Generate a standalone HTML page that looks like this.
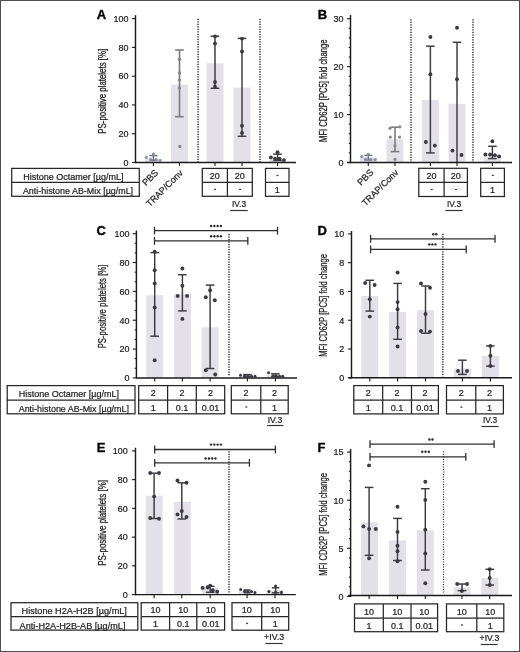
<!DOCTYPE html>
<html><head><meta charset="utf-8"><style>html,body{margin:0;padding:0;background:#fff;width:520px;height:652px;overflow:hidden;}svg{display:block;will-change:transform;font-family:"Liberation Sans", sans-serif;}</style></head><body>
<svg width="520" height="652" viewBox="0 0 520 652" font-family="Liberation Sans, sans-serif">
<rect x="0" y="0" width="520" height="652" fill="#ffffff"/>
<text x="96.8" y="18.8" font-size="13" text-anchor="start" font-weight="bold" fill="#000" stroke="#000" stroke-width="0.35" >A</text>
<line x1="135.5" y1="15.2" x2="135.5" y2="163.2" stroke="#1a1a1a" stroke-width="1.45" />
<line x1="131.9" y1="162.5" x2="135.5" y2="162.5" stroke="#1a1a1a" stroke-width="1.1" />
<text x="128.4" y="165.8" font-size="9.6" text-anchor="end" font-weight="normal" fill="#1a1a1a" stroke="#1a1a1a" stroke-width="0.22" textLength="5" lengthAdjust="spacingAndGlyphs" >0</text>
<line x1="131.9" y1="133.72" x2="135.5" y2="133.72" stroke="#1a1a1a" stroke-width="1.1" />
<text x="128.4" y="137.02" font-size="9.6" text-anchor="end" font-weight="normal" fill="#1a1a1a" stroke="#1a1a1a" stroke-width="0.22" textLength="10" lengthAdjust="spacingAndGlyphs" >20</text>
<line x1="131.9" y1="104.94" x2="135.5" y2="104.94" stroke="#1a1a1a" stroke-width="1.1" />
<text x="128.4" y="108.24" font-size="9.6" text-anchor="end" font-weight="normal" fill="#1a1a1a" stroke="#1a1a1a" stroke-width="0.22" textLength="10" lengthAdjust="spacingAndGlyphs" >40</text>
<line x1="131.9" y1="76.16" x2="135.5" y2="76.16" stroke="#1a1a1a" stroke-width="1.1" />
<text x="128.4" y="79.46" font-size="9.6" text-anchor="end" font-weight="normal" fill="#1a1a1a" stroke="#1a1a1a" stroke-width="0.22" textLength="10" lengthAdjust="spacingAndGlyphs" >60</text>
<line x1="131.9" y1="47.38" x2="135.5" y2="47.38" stroke="#1a1a1a" stroke-width="1.1" />
<text x="128.4" y="50.68" font-size="9.6" text-anchor="end" font-weight="normal" fill="#1a1a1a" stroke="#1a1a1a" stroke-width="0.22" textLength="10" lengthAdjust="spacingAndGlyphs" >80</text>
<line x1="131.9" y1="18.6" x2="135.5" y2="18.6" stroke="#1a1a1a" stroke-width="1.1" />
<text x="128.4" y="21.9" font-size="9.6" text-anchor="end" font-weight="normal" fill="#1a1a1a" stroke="#1a1a1a" stroke-width="0.22" textLength="15" lengthAdjust="spacingAndGlyphs" >100</text>
<text transform="translate(106.3,91.3) rotate(-90)" x="0" y="0" font-size="10.5" text-anchor="middle" fill="#1e1e1e" stroke="#1e1e1e" stroke-width="0.28" textLength="84.8" lengthAdjust="spacingAndGlyphs">PS-positive platelets [%]</text>
<rect x="144.9" y="159" width="17" height="3.5" fill="#e3e1e7"/>
<rect x="171" y="84.5" width="17" height="78" fill="#e3e1e7"/>
<rect x="206.5" y="63.2" width="17" height="99.3" fill="#e3e1e7"/>
<rect x="233.5" y="87.7" width="17" height="74.8" fill="#e3e1e7"/>
<rect x="269" y="159.6" width="17" height="2.9" fill="#e3e1e7"/>
<line x1="198.1" y1="18.8" x2="198.1" y2="162" stroke="#404040" stroke-width="1.6" stroke-dasharray="1.2 1.3"/>
<line x1="260" y1="18.8" x2="260" y2="162" stroke="#404040" stroke-width="1.6" stroke-dasharray="1.2 1.3"/>
<line x1="135.5" y1="162.5" x2="296" y2="162.5" stroke="#1a1a1a" stroke-width="1.45" />
<line x1="153.4" y1="162.5" x2="153.4" y2="166.1" stroke="#1a1a1a" stroke-width="1.1" />
<line x1="179.5" y1="162.5" x2="179.5" y2="166.1" stroke="#1a1a1a" stroke-width="1.1" />
<line x1="215" y1="162.5" x2="215" y2="166.1" stroke="#1a1a1a" stroke-width="1.1" />
<line x1="242" y1="162.5" x2="242" y2="166.1" stroke="#1a1a1a" stroke-width="1.1" />
<line x1="277.5" y1="162.5" x2="277.5" y2="166.1" stroke="#1a1a1a" stroke-width="1.1" />
<line x1="153.4" y1="155.6" x2="153.4" y2="160.3" stroke="#6d7080" stroke-width="1.45" />
<line x1="149.4" y1="155.6" x2="157.4" y2="155.6" stroke="#6d7080" stroke-width="1.45" />
<line x1="149.4" y1="160.3" x2="157.4" y2="160.3" stroke="#6d7080" stroke-width="1.45" />
<circle cx="146.3" cy="157.3" r="1.6" fill="#8d90a0"/>
<circle cx="153.4" cy="154.1" r="1.6" fill="#8d90a0"/>
<circle cx="160.2" cy="160.5" r="1.6" fill="#8d90a0"/>
<circle cx="150.6" cy="159.4" r="1.6" fill="#8d90a0"/>
<circle cx="156" cy="159.6" r="1.6" fill="#8d90a0"/>
<line x1="179.5" y1="50" x2="179.5" y2="116.7" stroke="#7b7b7e" stroke-width="1.6" />
<line x1="175.2" y1="50" x2="183.8" y2="50" stroke="#7b7b7e" stroke-width="1.6" />
<line x1="175.2" y1="116.7" x2="183.8" y2="116.7" stroke="#7b7b7e" stroke-width="1.6" />
<circle cx="179.5" cy="59.2" r="1.7" fill="#85858a"/>
<circle cx="179.5" cy="73" r="1.7" fill="#85858a"/>
<circle cx="179.5" cy="79.9" r="1.7" fill="#85858a"/>
<circle cx="179.5" cy="87.9" r="1.7" fill="#85858a"/>
<circle cx="179.9" cy="146.5" r="1.7" fill="#85858a"/>
<line x1="215" y1="36.2" x2="215" y2="88.3" stroke="#3a3b41" stroke-width="1.45" />
<line x1="210.7" y1="36.2" x2="219.3" y2="36.2" stroke="#3a3b41" stroke-width="1.45" />
<line x1="210.7" y1="88.3" x2="219.3" y2="88.3" stroke="#3a3b41" stroke-width="1.45" />
<circle cx="215" cy="36.4" r="1.95" fill="#3a3b41"/>
<circle cx="215" cy="43.5" r="1.95" fill="#3a3b41"/>
<circle cx="215" cy="82" r="1.95" fill="#3a3b41"/>
<circle cx="215" cy="86.6" r="1.95" fill="#3a3b41"/>
<line x1="242" y1="38.4" x2="242" y2="136.3" stroke="#3a3b41" stroke-width="1.45" />
<line x1="237.7" y1="38.4" x2="246.3" y2="38.4" stroke="#3a3b41" stroke-width="1.45" />
<line x1="237.7" y1="136.3" x2="246.3" y2="136.3" stroke="#3a3b41" stroke-width="1.45" />
<circle cx="242" cy="38.6" r="1.95" fill="#3a3b41"/>
<circle cx="242" cy="51.5" r="1.95" fill="#3a3b41"/>
<circle cx="242" cy="125.8" r="1.95" fill="#3a3b41"/>
<circle cx="242" cy="133" r="1.95" fill="#3a3b41"/>
<line x1="277.5" y1="154.2" x2="277.5" y2="160.5" stroke="#3a3b41" stroke-width="1.45" />
<line x1="273.2" y1="154.2" x2="281.8" y2="154.2" stroke="#3a3b41" stroke-width="1.45" />
<line x1="273.2" y1="160.5" x2="281.8" y2="160.5" stroke="#3a3b41" stroke-width="1.45" />
<circle cx="277.5" cy="152.2" r="1.95" fill="#3a3b41"/>
<circle cx="270.9" cy="157.4" r="1.95" fill="#3a3b41"/>
<circle cx="275" cy="158.8" r="1.95" fill="#3a3b41"/>
<circle cx="279.6" cy="158.8" r="1.95" fill="#3a3b41"/>
<circle cx="283.9" cy="160.1" r="1.95" fill="#3a3b41"/>
<rect x="11.7" y="168.4" width="127.6" height="27.9" fill="none" stroke="#262626" stroke-width="1.25"/>
<line x1="11.7" y1="182.4" x2="139.3" y2="182.4" stroke="#262626" stroke-width="1.25" />
<text x="23.3" y="179.7" font-size="9" text-anchor="start" font-weight="normal" fill="#1e1e1e" stroke="#1e1e1e" stroke-width="0.22" textLength="100.2" lengthAdjust="spacingAndGlyphs" >Histone Octamer [µg/mL]</text>
<text x="22.9" y="194.4" font-size="9" text-anchor="start" font-weight="normal" fill="#1e1e1e" stroke="#1e1e1e" stroke-width="0.22" textLength="110.2" lengthAdjust="spacingAndGlyphs" >Anti-histone AB-Mix [µg/mL]</text>
<rect x="202.3" y="168.4" width="50" height="27.9" fill="none" stroke="#262626" stroke-width="1.25"/>
<line x1="202.3" y1="182.4" x2="252.3" y2="182.4" stroke="#262626" stroke-width="1.25" />
<line x1="227.4" y1="168.4" x2="227.4" y2="196.3" stroke="#262626" stroke-width="1.25" />
<text x="214.85" y="179.1" font-size="9" text-anchor="middle" font-weight="normal" fill="#1e1e1e" stroke="#1e1e1e" stroke-width="0.22" >20</text>
<rect x="214.15" y="188.75" width="1.9" height="1.3" fill="#3a3a3a"/>
<text x="239.85" y="179.1" font-size="9" text-anchor="middle" font-weight="normal" fill="#1e1e1e" stroke="#1e1e1e" stroke-width="0.22" >20</text>
<rect x="239.15" y="188.75" width="1.9" height="1.3" fill="#3a3a3a"/>
<rect x="265.5" y="168.4" width="23.5" height="27.9" fill="none" stroke="#262626" stroke-width="1.25"/>
<line x1="265.5" y1="182.4" x2="289" y2="182.4" stroke="#262626" stroke-width="1.25" />
<rect x="276.55" y="174.8" width="1.9" height="1.3" fill="#3a3a3a"/>
<text x="277.25" y="193.1" font-size="9" text-anchor="middle" font-weight="normal" fill="#1e1e1e" stroke="#1e1e1e" stroke-width="0.22" >1</text>
<text x="231.9" y="207" font-size="8.7" text-anchor="start" font-weight="normal" fill="#222" stroke="#222" stroke-width="0.22" textLength="14.2" lengthAdjust="spacingAndGlyphs" >IV.3</text>
<line x1="230.2" y1="210.5" x2="247.8" y2="210.5" stroke="#333" stroke-width="1.2" />
<text transform="translate(158.9,173.3) rotate(-45)" font-size="9.2" text-anchor="end" fill="#222" stroke="#222" stroke-width="0.22">PBS</text>
<text transform="translate(183.4,173.6) rotate(-45)" font-size="9.0" text-anchor="end" fill="#222" stroke="#222" stroke-width="0.22">TRAP/Conv</text>
<text x="317.8" y="18.8" font-size="13" text-anchor="start" font-weight="bold" fill="#000" stroke="#000" stroke-width="0.35" >B</text>
<line x1="350.5" y1="15" x2="350.5" y2="163.2" stroke="#1a1a1a" stroke-width="1.45" />
<line x1="346.9" y1="162.5" x2="350.5" y2="162.5" stroke="#1a1a1a" stroke-width="1.1" />
<text x="343.4" y="165.8" font-size="9.6" text-anchor="end" font-weight="normal" fill="#1a1a1a" stroke="#1a1a1a" stroke-width="0.22" textLength="5" lengthAdjust="spacingAndGlyphs" >0</text>
<line x1="346.9" y1="114.57" x2="350.5" y2="114.57" stroke="#1a1a1a" stroke-width="1.1" />
<text x="343.4" y="117.87" font-size="9.6" text-anchor="end" font-weight="normal" fill="#1a1a1a" stroke="#1a1a1a" stroke-width="0.22" textLength="10" lengthAdjust="spacingAndGlyphs" >10</text>
<line x1="346.9" y1="66.63" x2="350.5" y2="66.63" stroke="#1a1a1a" stroke-width="1.1" />
<text x="343.4" y="69.93" font-size="9.6" text-anchor="end" font-weight="normal" fill="#1a1a1a" stroke="#1a1a1a" stroke-width="0.22" textLength="10" lengthAdjust="spacingAndGlyphs" >20</text>
<line x1="346.9" y1="18.7" x2="350.5" y2="18.7" stroke="#1a1a1a" stroke-width="1.1" />
<text x="343.4" y="22" font-size="9.6" text-anchor="end" font-weight="normal" fill="#1a1a1a" stroke="#1a1a1a" stroke-width="0.22" textLength="10" lengthAdjust="spacingAndGlyphs" >30</text>
<line x1="348.7" y1="152.91" x2="350.5" y2="152.91" stroke="#1a1a1a" stroke-width="1.0" />
<line x1="348.7" y1="143.33" x2="350.5" y2="143.33" stroke="#1a1a1a" stroke-width="1.0" />
<line x1="348.7" y1="133.74" x2="350.5" y2="133.74" stroke="#1a1a1a" stroke-width="1.0" />
<line x1="348.7" y1="124.15" x2="350.5" y2="124.15" stroke="#1a1a1a" stroke-width="1.0" />
<line x1="348.7" y1="104.98" x2="350.5" y2="104.98" stroke="#1a1a1a" stroke-width="1.0" />
<line x1="348.7" y1="95.39" x2="350.5" y2="95.39" stroke="#1a1a1a" stroke-width="1.0" />
<line x1="348.7" y1="85.81" x2="350.5" y2="85.81" stroke="#1a1a1a" stroke-width="1.0" />
<line x1="348.7" y1="76.22" x2="350.5" y2="76.22" stroke="#1a1a1a" stroke-width="1.0" />
<line x1="348.7" y1="57.05" x2="350.5" y2="57.05" stroke="#1a1a1a" stroke-width="1.0" />
<line x1="348.7" y1="47.46" x2="350.5" y2="47.46" stroke="#1a1a1a" stroke-width="1.0" />
<line x1="348.7" y1="37.87" x2="350.5" y2="37.87" stroke="#1a1a1a" stroke-width="1.0" />
<line x1="348.7" y1="28.29" x2="350.5" y2="28.29" stroke="#1a1a1a" stroke-width="1.0" />
<text transform="translate(326.5,90.75) rotate(-90)" x="0" y="0" font-size="10.5" text-anchor="middle" fill="#1e1e1e" stroke="#1e1e1e" stroke-width="0.28" textLength="102.3" lengthAdjust="spacingAndGlyphs">MFI CD62P [PC5] fold change</text>
<rect x="359.8" y="157.5" width="17" height="5" fill="#e3e1e7"/>
<rect x="386.5" y="139.3" width="17" height="23.2" fill="#e3e1e7"/>
<rect x="421.9" y="100.1" width="17" height="62.4" fill="#e3e1e7"/>
<rect x="448.5" y="103.8" width="17" height="58.7" fill="#e3e1e7"/>
<rect x="483.9" y="155" width="17" height="7.5" fill="#e3e1e7"/>
<line x1="411" y1="19.2" x2="411" y2="162" stroke="#404040" stroke-width="1.6" stroke-dasharray="1.2 1.3"/>
<line x1="473" y1="19.2" x2="473" y2="162" stroke="#404040" stroke-width="1.6" stroke-dasharray="1.2 1.3"/>
<line x1="347.2" y1="162.5" x2="512" y2="162.5" stroke="#1a1a1a" stroke-width="1.45" />
<line x1="368.3" y1="162.5" x2="368.3" y2="166.1" stroke="#1a1a1a" stroke-width="1.1" />
<line x1="395" y1="162.5" x2="395" y2="166.1" stroke="#1a1a1a" stroke-width="1.1" />
<line x1="430.4" y1="162.5" x2="430.4" y2="166.1" stroke="#1a1a1a" stroke-width="1.1" />
<line x1="457" y1="162.5" x2="457" y2="166.1" stroke="#1a1a1a" stroke-width="1.1" />
<line x1="492.4" y1="162.5" x2="492.4" y2="166.1" stroke="#1a1a1a" stroke-width="1.1" />
<line x1="368.3" y1="155.4" x2="368.3" y2="160" stroke="#6d7080" stroke-width="1.45" />
<line x1="364.3" y1="155.4" x2="372.3" y2="155.4" stroke="#6d7080" stroke-width="1.45" />
<line x1="364.3" y1="160" x2="372.3" y2="160" stroke="#6d7080" stroke-width="1.45" />
<circle cx="361.8" cy="156.6" r="1.6" fill="#8d90a0"/>
<circle cx="368.3" cy="154.3" r="1.6" fill="#8d90a0"/>
<circle cx="365.5" cy="159.2" r="1.6" fill="#8d90a0"/>
<circle cx="370.8" cy="159.4" r="1.6" fill="#8d90a0"/>
<circle cx="375.2" cy="159.6" r="1.6" fill="#8d90a0"/>
<line x1="395" y1="127.2" x2="395" y2="151.6" stroke="#7b7b7e" stroke-width="1.6" />
<line x1="390.7" y1="127.2" x2="399.3" y2="127.2" stroke="#7b7b7e" stroke-width="1.6" />
<line x1="390.7" y1="151.6" x2="399.3" y2="151.6" stroke="#7b7b7e" stroke-width="1.6" />
<circle cx="390" cy="128.2" r="1.6" fill="#8a8a8d"/>
<circle cx="399.9" cy="126.8" r="1.6" fill="#8a8a8d"/>
<circle cx="390.3" cy="137.1" r="1.6" fill="#8a8a8d"/>
<circle cx="399.6" cy="137.1" r="1.6" fill="#8a8a8d"/>
<circle cx="395" cy="145.7" r="1.6" fill="#8a8a8d"/>
<circle cx="395" cy="159.4" r="1.6" fill="#8a8a8d"/>
<line x1="430.4" y1="46.2" x2="430.4" y2="152.9" stroke="#3a3b41" stroke-width="1.45" />
<line x1="426.1" y1="46.2" x2="434.7" y2="46.2" stroke="#3a3b41" stroke-width="1.45" />
<line x1="426.1" y1="152.9" x2="434.7" y2="152.9" stroke="#3a3b41" stroke-width="1.45" />
<circle cx="430.4" cy="37" r="1.95" fill="#3a3b41"/>
<circle cx="430.4" cy="74.2" r="1.95" fill="#3a3b41"/>
<circle cx="425.9" cy="142" r="1.95" fill="#3a3b41"/>
<circle cx="434.8" cy="145.6" r="1.95" fill="#3a3b41"/>
<line x1="457" y1="42.3" x2="457" y2="162.2" stroke="#3a3b41" stroke-width="1.45" />
<line x1="452.7" y1="42.3" x2="461.3" y2="42.3" stroke="#3a3b41" stroke-width="1.45" />
<circle cx="457" cy="27.8" r="1.95" fill="#3a3b41"/>
<circle cx="457" cy="79.2" r="1.95" fill="#3a3b41"/>
<circle cx="452.5" cy="150.6" r="1.95" fill="#3a3b41"/>
<circle cx="461.5" cy="155" r="1.95" fill="#3a3b41"/>
<line x1="492.4" y1="146.3" x2="492.4" y2="158.6" stroke="#3a3b41" stroke-width="1.45" />
<line x1="488.1" y1="146.3" x2="496.7" y2="146.3" stroke="#3a3b41" stroke-width="1.45" />
<line x1="488.1" y1="158.6" x2="496.7" y2="158.6" stroke="#3a3b41" stroke-width="1.45" />
<circle cx="492.4" cy="141.2" r="1.95" fill="#3a3b41"/>
<circle cx="485.4" cy="154.5" r="1.95" fill="#3a3b41"/>
<circle cx="490.1" cy="154.5" r="1.95" fill="#3a3b41"/>
<circle cx="494.9" cy="155.2" r="1.95" fill="#3a3b41"/>
<circle cx="499.1" cy="156.4" r="1.95" fill="#3a3b41"/>
<rect x="418.8" y="168.3" width="48.6" height="28.2" fill="none" stroke="#262626" stroke-width="1.25"/>
<line x1="418.8" y1="182.4" x2="467.4" y2="182.4" stroke="#262626" stroke-width="1.25" />
<line x1="444.1" y1="168.3" x2="444.1" y2="196.5" stroke="#262626" stroke-width="1.25" />
<text x="431.45" y="179" font-size="9" text-anchor="middle" font-weight="normal" fill="#1e1e1e" stroke="#1e1e1e" stroke-width="0.22" >20</text>
<rect x="430.75" y="188.85" width="1.9" height="1.3" fill="#3a3a3a"/>
<text x="455.75" y="179" font-size="9" text-anchor="middle" font-weight="normal" fill="#1e1e1e" stroke="#1e1e1e" stroke-width="0.22" >20</text>
<rect x="455.05" y="188.85" width="1.9" height="1.3" fill="#3a3a3a"/>
<rect x="480.7" y="168.3" width="23.7" height="28.2" fill="none" stroke="#262626" stroke-width="1.25"/>
<line x1="480.7" y1="182.4" x2="504.4" y2="182.4" stroke="#262626" stroke-width="1.25" />
<rect x="491.85" y="174.75" width="1.9" height="1.3" fill="#3a3a3a"/>
<text x="492.55" y="193.1" font-size="9" text-anchor="middle" font-weight="normal" fill="#1e1e1e" stroke="#1e1e1e" stroke-width="0.22" >1</text>
<text x="446.9" y="207" font-size="8.7" text-anchor="start" font-weight="normal" fill="#222" stroke="#222" stroke-width="0.22" textLength="14.2" lengthAdjust="spacingAndGlyphs" >IV.3</text>
<line x1="445.5" y1="210.5" x2="462.5" y2="210.5" stroke="#333" stroke-width="1.2" />
<text transform="translate(374.0,173.0) rotate(-45)" font-size="9.2" text-anchor="end" fill="#222" stroke="#222" stroke-width="0.22">PBS</text>
<text transform="translate(399.0,173.0) rotate(-45)" font-size="9.0" text-anchor="end" fill="#222" stroke="#222" stroke-width="0.22">TRAP/Conv</text>
<text x="96.6" y="234.5" font-size="13" text-anchor="start" font-weight="bold" fill="#000" stroke="#000" stroke-width="0.35" >C</text>
<line x1="136.4" y1="230.5" x2="136.4" y2="378.6" stroke="#1a1a1a" stroke-width="1.45" />
<line x1="132.8" y1="377.9" x2="136.4" y2="377.9" stroke="#1a1a1a" stroke-width="1.1" />
<text x="129.5" y="381.2" font-size="9.6" text-anchor="end" font-weight="normal" fill="#1a1a1a" stroke="#1a1a1a" stroke-width="0.22" textLength="5" lengthAdjust="spacingAndGlyphs" >0</text>
<line x1="132.8" y1="349.06" x2="136.4" y2="349.06" stroke="#1a1a1a" stroke-width="1.1" />
<text x="129.5" y="352.36" font-size="9.6" text-anchor="end" font-weight="normal" fill="#1a1a1a" stroke="#1a1a1a" stroke-width="0.22" textLength="10" lengthAdjust="spacingAndGlyphs" >20</text>
<line x1="132.8" y1="320.22" x2="136.4" y2="320.22" stroke="#1a1a1a" stroke-width="1.1" />
<text x="129.5" y="323.52" font-size="9.6" text-anchor="end" font-weight="normal" fill="#1a1a1a" stroke="#1a1a1a" stroke-width="0.22" textLength="10" lengthAdjust="spacingAndGlyphs" >40</text>
<line x1="132.8" y1="291.38" x2="136.4" y2="291.38" stroke="#1a1a1a" stroke-width="1.1" />
<text x="129.5" y="294.68" font-size="9.6" text-anchor="end" font-weight="normal" fill="#1a1a1a" stroke="#1a1a1a" stroke-width="0.22" textLength="10" lengthAdjust="spacingAndGlyphs" >60</text>
<line x1="132.8" y1="262.54" x2="136.4" y2="262.54" stroke="#1a1a1a" stroke-width="1.1" />
<text x="129.5" y="265.84" font-size="9.6" text-anchor="end" font-weight="normal" fill="#1a1a1a" stroke="#1a1a1a" stroke-width="0.22" textLength="10" lengthAdjust="spacingAndGlyphs" >80</text>
<line x1="132.8" y1="233.7" x2="136.4" y2="233.7" stroke="#1a1a1a" stroke-width="1.1" />
<text x="129.5" y="237" font-size="9.6" text-anchor="end" font-weight="normal" fill="#1a1a1a" stroke="#1a1a1a" stroke-width="0.22" textLength="15" lengthAdjust="spacingAndGlyphs" >100</text>
<line x1="134.6" y1="368.29" x2="136.4" y2="368.29" stroke="#1a1a1a" stroke-width="1.0" />
<line x1="134.6" y1="358.67" x2="136.4" y2="358.67" stroke="#1a1a1a" stroke-width="1.0" />
<line x1="134.6" y1="339.45" x2="136.4" y2="339.45" stroke="#1a1a1a" stroke-width="1.0" />
<line x1="134.6" y1="329.83" x2="136.4" y2="329.83" stroke="#1a1a1a" stroke-width="1.0" />
<line x1="134.6" y1="310.61" x2="136.4" y2="310.61" stroke="#1a1a1a" stroke-width="1.0" />
<line x1="134.6" y1="300.99" x2="136.4" y2="300.99" stroke="#1a1a1a" stroke-width="1.0" />
<line x1="134.6" y1="281.77" x2="136.4" y2="281.77" stroke="#1a1a1a" stroke-width="1.0" />
<line x1="134.6" y1="272.15" x2="136.4" y2="272.15" stroke="#1a1a1a" stroke-width="1.0" />
<line x1="134.6" y1="252.93" x2="136.4" y2="252.93" stroke="#1a1a1a" stroke-width="1.0" />
<line x1="134.6" y1="243.31" x2="136.4" y2="243.31" stroke="#1a1a1a" stroke-width="1.0" />
<text transform="translate(106,306.5) rotate(-90)" x="0" y="0" font-size="10.5" text-anchor="middle" fill="#1e1e1e" stroke="#1e1e1e" stroke-width="0.28" textLength="83.7" lengthAdjust="spacingAndGlyphs">PS-positive platelets [%]</text>
<rect x="146.2" y="295.3" width="17" height="82.6" fill="#e3e1e7"/>
<rect x="173.9" y="294.1" width="17" height="83.8" fill="#e3e1e7"/>
<rect x="201.6" y="327.4" width="17" height="50.5" fill="#e3e1e7"/>
<rect x="238.9" y="375.6" width="17" height="2.3" fill="#e3e1e7"/>
<rect x="266.9" y="375" width="17" height="2.9" fill="#e3e1e7"/>
<line x1="229" y1="234" x2="229" y2="376.5" stroke="#404040" stroke-width="1.6" stroke-dasharray="1.2 1.3"/>
<line x1="136.4" y1="377.9" x2="297" y2="377.9" stroke="#1a1a1a" stroke-width="1.45" />
<line x1="154.7" y1="377.9" x2="154.7" y2="381.5" stroke="#1a1a1a" stroke-width="1.1" />
<line x1="182.4" y1="377.9" x2="182.4" y2="381.5" stroke="#1a1a1a" stroke-width="1.1" />
<line x1="210.1" y1="377.9" x2="210.1" y2="381.5" stroke="#1a1a1a" stroke-width="1.1" />
<line x1="247.4" y1="377.9" x2="247.4" y2="381.5" stroke="#1a1a1a" stroke-width="1.1" />
<line x1="275.4" y1="377.9" x2="275.4" y2="381.5" stroke="#1a1a1a" stroke-width="1.1" />
<line x1="154.7" y1="252.6" x2="154.7" y2="336.2" stroke="#3a3b41" stroke-width="1.45" />
<line x1="150.4" y1="252.6" x2="159" y2="252.6" stroke="#3a3b41" stroke-width="1.45" />
<line x1="150.4" y1="336.2" x2="159" y2="336.2" stroke="#3a3b41" stroke-width="1.45" />
<circle cx="154.7" cy="251.7" r="1.95" fill="#3a3b41"/>
<circle cx="154.7" cy="270.2" r="1.95" fill="#3a3b41"/>
<circle cx="154.7" cy="283.4" r="1.95" fill="#3a3b41"/>
<circle cx="154.7" cy="307.5" r="1.95" fill="#3a3b41"/>
<circle cx="154.7" cy="360.2" r="1.95" fill="#3a3b41"/>
<line x1="182.4" y1="274.7" x2="182.4" y2="310.9" stroke="#3a3b41" stroke-width="1.45" />
<line x1="178.1" y1="274.7" x2="186.7" y2="274.7" stroke="#3a3b41" stroke-width="1.45" />
<line x1="178.1" y1="310.9" x2="186.7" y2="310.9" stroke="#3a3b41" stroke-width="1.45" />
<circle cx="182.4" cy="268.5" r="1.95" fill="#3a3b41"/>
<circle cx="182.4" cy="285.8" r="1.95" fill="#3a3b41"/>
<circle cx="177.7" cy="295.9" r="1.95" fill="#3a3b41"/>
<circle cx="187.1" cy="295.9" r="1.95" fill="#3a3b41"/>
<circle cx="182.4" cy="318.9" r="1.95" fill="#3a3b41"/>
<line x1="210.1" y1="285.1" x2="210.1" y2="368.5" stroke="#3a3b41" stroke-width="1.45" />
<line x1="205.8" y1="285.1" x2="214.4" y2="285.1" stroke="#3a3b41" stroke-width="1.45" />
<line x1="205.8" y1="368.5" x2="214.4" y2="368.5" stroke="#3a3b41" stroke-width="1.45" />
<circle cx="210.1" cy="290.3" r="1.95" fill="#3a3b41"/>
<circle cx="205.8" cy="297.2" r="1.95" fill="#3a3b41"/>
<circle cx="214.8" cy="300.2" r="1.95" fill="#3a3b41"/>
<circle cx="205.8" cy="370.2" r="1.95" fill="#3a3b41"/>
<circle cx="215.2" cy="374.5" r="1.95" fill="#3a3b41"/>
<line x1="247.4" y1="374.6" x2="247.4" y2="376.8" stroke="#3a3b41" stroke-width="1.45" />
<line x1="243.1" y1="374.6" x2="251.7" y2="374.6" stroke="#3a3b41" stroke-width="1.45" />
<line x1="243.1" y1="376.8" x2="251.7" y2="376.8" stroke="#3a3b41" stroke-width="1.45" />
<circle cx="240.5" cy="375.2" r="1.5" fill="#3a3b41"/>
<circle cx="244.6" cy="376" r="1.5" fill="#3a3b41"/>
<circle cx="248" cy="376" r="1.5" fill="#3a3b41"/>
<circle cx="251.5" cy="376.2" r="1.5" fill="#3a3b41"/>
<circle cx="255" cy="376.2" r="1.5" fill="#3a3b41"/>
<line x1="275.4" y1="373.8" x2="275.4" y2="376.8" stroke="#3a3b41" stroke-width="1.45" />
<line x1="271.1" y1="373.8" x2="279.7" y2="373.8" stroke="#3a3b41" stroke-width="1.45" />
<line x1="271.1" y1="376.8" x2="279.7" y2="376.8" stroke="#3a3b41" stroke-width="1.45" />
<circle cx="268.5" cy="372.8" r="1.5" fill="#3a3b41"/>
<circle cx="273" cy="375.8" r="1.5" fill="#3a3b41"/>
<circle cx="276.2" cy="376" r="1.5" fill="#3a3b41"/>
<circle cx="279.5" cy="376.2" r="1.5" fill="#3a3b41"/>
<circle cx="282.8" cy="376.2" r="1.5" fill="#3a3b41"/>
<line x1="154.5" y1="230.6" x2="277.5" y2="230.6" stroke="#2e2e30" stroke-width="1.3" />
<line x1="154.5" y1="226.7" x2="154.5" y2="234.5" stroke="#2e2e30" stroke-width="1.3" />
<line x1="277.5" y1="226.7" x2="277.5" y2="234.5" stroke="#2e2e30" stroke-width="1.3" />
<line x1="154.5" y1="240.8" x2="247.8" y2="240.8" stroke="#2e2e30" stroke-width="1.3" />
<line x1="154.5" y1="236.9" x2="154.5" y2="244.7" stroke="#2e2e30" stroke-width="1.3" />
<line x1="247.8" y1="236.9" x2="247.8" y2="244.7" stroke="#2e2e30" stroke-width="1.3" />
<circle cx="211.12" cy="226" r="1.2" fill="#2a2a2a"/>
<circle cx="214.38" cy="226" r="1.2" fill="#2a2a2a"/>
<circle cx="217.62" cy="226" r="1.2" fill="#2a2a2a"/>
<circle cx="220.88" cy="226" r="1.2" fill="#2a2a2a"/>
<circle cx="211.12" cy="236.3" r="1.2" fill="#2a2a2a"/>
<circle cx="214.38" cy="236.3" r="1.2" fill="#2a2a2a"/>
<circle cx="217.62" cy="236.3" r="1.2" fill="#2a2a2a"/>
<circle cx="220.88" cy="236.3" r="1.2" fill="#2a2a2a"/>
<rect x="7.2" y="385.6" width="127.8" height="28.2" fill="none" stroke="#262626" stroke-width="1.25"/>
<line x1="7.2" y1="400" x2="135" y2="400" stroke="#262626" stroke-width="1.25" />
<text x="18.7" y="396.9" font-size="9" text-anchor="start" font-weight="normal" fill="#1e1e1e" stroke="#1e1e1e" stroke-width="0.22" textLength="100.4" lengthAdjust="spacingAndGlyphs" >Histone Octamer [µg/mL]</text>
<text x="18.7" y="412" font-size="9" text-anchor="start" font-weight="normal" fill="#1e1e1e" stroke="#1e1e1e" stroke-width="0.22" textLength="110.3" lengthAdjust="spacingAndGlyphs" >Anti-histone AB-Mix [µg/mL]</text>
<rect x="138.7" y="385.6" width="86" height="28.2" fill="none" stroke="#262626" stroke-width="1.25"/>
<line x1="138.7" y1="400" x2="224.7" y2="400" stroke="#262626" stroke-width="1.25" />
<line x1="167.6" y1="385.6" x2="167.6" y2="413.8" stroke="#262626" stroke-width="1.25" />
<line x1="196.3" y1="385.6" x2="196.3" y2="413.8" stroke="#262626" stroke-width="1.25" />
<text x="153.15" y="396.3" font-size="9" text-anchor="middle" font-weight="normal" fill="#1e1e1e" stroke="#1e1e1e" stroke-width="0.22" >2</text>
<text x="153.15" y="410.7" font-size="9" text-anchor="middle" font-weight="normal" fill="#1e1e1e" stroke="#1e1e1e" stroke-width="0.22" >1</text>
<text x="181.95" y="396.3" font-size="9" text-anchor="middle" font-weight="normal" fill="#1e1e1e" stroke="#1e1e1e" stroke-width="0.22" >2</text>
<text x="181.95" y="410.7" font-size="9" text-anchor="middle" font-weight="normal" fill="#1e1e1e" stroke="#1e1e1e" stroke-width="0.22" >0.1</text>
<text x="210.5" y="396.3" font-size="9" text-anchor="middle" font-weight="normal" fill="#1e1e1e" stroke="#1e1e1e" stroke-width="0.22" >2</text>
<text x="210.5" y="410.7" font-size="9" text-anchor="middle" font-weight="normal" fill="#1e1e1e" stroke="#1e1e1e" stroke-width="0.22" >0.01</text>
<rect x="231.3" y="385.6" width="56.9" height="28.2" fill="none" stroke="#262626" stroke-width="1.25"/>
<line x1="231.3" y1="400" x2="288.2" y2="400" stroke="#262626" stroke-width="1.25" />
<line x1="260.8" y1="385.6" x2="260.8" y2="413.8" stroke="#262626" stroke-width="1.25" />
<text x="246.05" y="396.3" font-size="9" text-anchor="middle" font-weight="normal" fill="#1e1e1e" stroke="#1e1e1e" stroke-width="0.22" >2</text>
<rect x="245.35" y="406.3" width="1.9" height="1.3" fill="#3a3a3a"/>
<text x="274.5" y="396.3" font-size="9" text-anchor="middle" font-weight="normal" fill="#1e1e1e" stroke="#1e1e1e" stroke-width="0.22" >2</text>
<text x="274.5" y="410.7" font-size="9" text-anchor="middle" font-weight="normal" fill="#1e1e1e" stroke="#1e1e1e" stroke-width="0.22" >1</text>
<text x="267.7" y="423" font-size="8.5" text-anchor="start" font-weight="normal" fill="#222" stroke="#222" stroke-width="0.22" textLength="14.6" lengthAdjust="spacingAndGlyphs" >IV.3</text>
<line x1="267" y1="425.5" x2="283.4" y2="425.5" stroke="#333" stroke-width="1.15" />
<text x="317.6" y="234.7" font-size="13" text-anchor="start" font-weight="bold" fill="#000" stroke="#000" stroke-width="0.35" >D</text>
<line x1="351.5" y1="231" x2="351.5" y2="378.5" stroke="#1a1a1a" stroke-width="1.45" />
<line x1="347.9" y1="377.8" x2="351.5" y2="377.8" stroke="#1a1a1a" stroke-width="1.1" />
<text x="344.3" y="381.1" font-size="9.6" text-anchor="end" font-weight="normal" fill="#1a1a1a" stroke="#1a1a1a" stroke-width="0.22" textLength="5" lengthAdjust="spacingAndGlyphs" >0</text>
<line x1="347.9" y1="349.02" x2="351.5" y2="349.02" stroke="#1a1a1a" stroke-width="1.1" />
<text x="344.3" y="352.32" font-size="9.6" text-anchor="end" font-weight="normal" fill="#1a1a1a" stroke="#1a1a1a" stroke-width="0.22" textLength="5" lengthAdjust="spacingAndGlyphs" >2</text>
<line x1="347.9" y1="320.24" x2="351.5" y2="320.24" stroke="#1a1a1a" stroke-width="1.1" />
<text x="344.3" y="323.54" font-size="9.6" text-anchor="end" font-weight="normal" fill="#1a1a1a" stroke="#1a1a1a" stroke-width="0.22" textLength="5" lengthAdjust="spacingAndGlyphs" >4</text>
<line x1="347.9" y1="291.46" x2="351.5" y2="291.46" stroke="#1a1a1a" stroke-width="1.1" />
<text x="344.3" y="294.76" font-size="9.6" text-anchor="end" font-weight="normal" fill="#1a1a1a" stroke="#1a1a1a" stroke-width="0.22" textLength="5" lengthAdjust="spacingAndGlyphs" >6</text>
<line x1="347.9" y1="262.68" x2="351.5" y2="262.68" stroke="#1a1a1a" stroke-width="1.1" />
<text x="344.3" y="265.98" font-size="9.6" text-anchor="end" font-weight="normal" fill="#1a1a1a" stroke="#1a1a1a" stroke-width="0.22" textLength="5" lengthAdjust="spacingAndGlyphs" >8</text>
<line x1="347.9" y1="233.9" x2="351.5" y2="233.9" stroke="#1a1a1a" stroke-width="1.1" />
<text x="344.3" y="237.2" font-size="9.6" text-anchor="end" font-weight="normal" fill="#1a1a1a" stroke="#1a1a1a" stroke-width="0.22" textLength="10" lengthAdjust="spacingAndGlyphs" >10</text>
<text transform="translate(327,305.4) rotate(-90)" x="0" y="0" font-size="10.5" text-anchor="middle" fill="#1e1e1e" stroke="#1e1e1e" stroke-width="0.28" textLength="102.7" lengthAdjust="spacingAndGlyphs">MFI CD62P [PC5] fold change</text>
<rect x="361.3" y="296" width="17" height="81.8" fill="#e3e1e7"/>
<rect x="389.1" y="311.9" width="17" height="65.9" fill="#e3e1e7"/>
<rect x="417" y="310.2" width="17" height="67.6" fill="#e3e1e7"/>
<rect x="453.9" y="368.4" width="17" height="9.4" fill="#e3e1e7"/>
<rect x="481.9" y="355.9" width="17" height="21.9" fill="#e3e1e7"/>
<line x1="442.8" y1="233.7" x2="442.8" y2="376.5" stroke="#404040" stroke-width="1.6" stroke-dasharray="1.2 1.3"/>
<line x1="348.5" y1="377.8" x2="512" y2="377.8" stroke="#1a1a1a" stroke-width="1.45" />
<line x1="369.8" y1="377.8" x2="369.8" y2="381.4" stroke="#1a1a1a" stroke-width="1.1" />
<line x1="397.6" y1="377.8" x2="397.6" y2="381.4" stroke="#1a1a1a" stroke-width="1.1" />
<line x1="425.5" y1="377.8" x2="425.5" y2="381.4" stroke="#1a1a1a" stroke-width="1.1" />
<line x1="462.4" y1="377.8" x2="462.4" y2="381.4" stroke="#1a1a1a" stroke-width="1.1" />
<line x1="490.4" y1="377.8" x2="490.4" y2="381.4" stroke="#1a1a1a" stroke-width="1.1" />
<line x1="369.8" y1="280.3" x2="369.8" y2="311.1" stroke="#3a3b41" stroke-width="1.45" />
<line x1="365.5" y1="280.3" x2="374.1" y2="280.3" stroke="#3a3b41" stroke-width="1.45" />
<line x1="365.5" y1="311.1" x2="374.1" y2="311.1" stroke="#3a3b41" stroke-width="1.45" />
<circle cx="365.2" cy="283" r="1.95" fill="#3a3b41"/>
<circle cx="374.6" cy="285" r="1.95" fill="#3a3b41"/>
<circle cx="369.8" cy="299.3" r="1.95" fill="#3a3b41"/>
<circle cx="369.8" cy="316.6" r="1.95" fill="#3a3b41"/>
<line x1="397.6" y1="283.4" x2="397.6" y2="339.3" stroke="#3a3b41" stroke-width="1.45" />
<line x1="393.3" y1="283.4" x2="401.9" y2="283.4" stroke="#3a3b41" stroke-width="1.45" />
<line x1="393.3" y1="339.3" x2="401.9" y2="339.3" stroke="#3a3b41" stroke-width="1.45" />
<circle cx="397.6" cy="272.5" r="1.95" fill="#3a3b41"/>
<circle cx="397.6" cy="302.1" r="1.95" fill="#3a3b41"/>
<circle cx="397.6" cy="309.3" r="1.95" fill="#3a3b41"/>
<circle cx="397.6" cy="327.5" r="1.95" fill="#3a3b41"/>
<circle cx="397.6" cy="346.5" r="1.95" fill="#3a3b41"/>
<line x1="425.5" y1="286" x2="425.5" y2="333.2" stroke="#3a3b41" stroke-width="1.45" />
<line x1="421.2" y1="286" x2="429.8" y2="286" stroke="#3a3b41" stroke-width="1.45" />
<line x1="421.2" y1="333.2" x2="429.8" y2="333.2" stroke="#3a3b41" stroke-width="1.45" />
<circle cx="421" cy="283.4" r="1.95" fill="#3a3b41"/>
<circle cx="430" cy="287.7" r="1.95" fill="#3a3b41"/>
<circle cx="425.5" cy="314" r="1.95" fill="#3a3b41"/>
<circle cx="421" cy="331" r="1.95" fill="#3a3b41"/>
<circle cx="430" cy="331.6" r="1.95" fill="#3a3b41"/>
<line x1="462.4" y1="360.2" x2="462.4" y2="374.4" stroke="#3a3b41" stroke-width="1.45" />
<line x1="458.1" y1="360.2" x2="466.7" y2="360.2" stroke="#3a3b41" stroke-width="1.45" />
<line x1="458.1" y1="374.4" x2="466.7" y2="374.4" stroke="#3a3b41" stroke-width="1.45" />
<circle cx="458" cy="371" r="1.95" fill="#3a3b41"/>
<circle cx="467" cy="371" r="1.95" fill="#3a3b41"/>
<line x1="490.4" y1="345.9" x2="490.4" y2="366.1" stroke="#3a3b41" stroke-width="1.45" />
<line x1="486.1" y1="345.9" x2="494.7" y2="345.9" stroke="#3a3b41" stroke-width="1.45" />
<line x1="486.1" y1="366.1" x2="494.7" y2="366.1" stroke="#3a3b41" stroke-width="1.45" />
<circle cx="490.4" cy="346" r="1.95" fill="#3a3b41"/>
<circle cx="490.4" cy="355.7" r="1.95" fill="#3a3b41"/>
<circle cx="490.4" cy="366" r="1.95" fill="#3a3b41"/>
<line x1="370.6" y1="238.9" x2="495" y2="238.9" stroke="#2e2e30" stroke-width="1.3" />
<line x1="370.6" y1="235" x2="370.6" y2="242.8" stroke="#2e2e30" stroke-width="1.3" />
<line x1="495" y1="235" x2="495" y2="242.8" stroke="#2e2e30" stroke-width="1.3" />
<line x1="370.6" y1="249.4" x2="466.2" y2="249.4" stroke="#2e2e30" stroke-width="1.3" />
<line x1="370.6" y1="245.5" x2="370.6" y2="253.3" stroke="#2e2e30" stroke-width="1.3" />
<line x1="466.2" y1="245.5" x2="466.2" y2="253.3" stroke="#2e2e30" stroke-width="1.3" />
<circle cx="433.27" cy="234.2" r="1.2" fill="#2a2a2a"/>
<circle cx="436.23" cy="234.2" r="1.2" fill="#2a2a2a"/>
<circle cx="429.33" cy="244.4" r="1.2" fill="#2a2a2a"/>
<circle cx="432.4" cy="244.4" r="1.2" fill="#2a2a2a"/>
<circle cx="435.47" cy="244.4" r="1.2" fill="#2a2a2a"/>
<rect x="353.8" y="385.6" width="84.6" height="28.3" fill="none" stroke="#262626" stroke-width="1.25"/>
<line x1="353.8" y1="400.2" x2="438.4" y2="400.2" stroke="#262626" stroke-width="1.25" />
<line x1="382.7" y1="385.6" x2="382.7" y2="413.9" stroke="#262626" stroke-width="1.25" />
<line x1="411.5" y1="385.6" x2="411.5" y2="413.9" stroke="#262626" stroke-width="1.25" />
<text x="368.25" y="396.3" font-size="9" text-anchor="middle" font-weight="normal" fill="#1e1e1e" stroke="#1e1e1e" stroke-width="0.22" >2</text>
<text x="368.25" y="410.9" font-size="9" text-anchor="middle" font-weight="normal" fill="#1e1e1e" stroke="#1e1e1e" stroke-width="0.22" >1</text>
<text x="397.1" y="396.3" font-size="9" text-anchor="middle" font-weight="normal" fill="#1e1e1e" stroke="#1e1e1e" stroke-width="0.22" >2</text>
<text x="397.1" y="410.9" font-size="9" text-anchor="middle" font-weight="normal" fill="#1e1e1e" stroke="#1e1e1e" stroke-width="0.22" >0.1</text>
<text x="424.95" y="396.3" font-size="9" text-anchor="middle" font-weight="normal" fill="#1e1e1e" stroke="#1e1e1e" stroke-width="0.22" >2</text>
<text x="424.95" y="410.9" font-size="9" text-anchor="middle" font-weight="normal" fill="#1e1e1e" stroke="#1e1e1e" stroke-width="0.22" >0.01</text>
<rect x="446.5" y="385.6" width="56.9" height="28.3" fill="none" stroke="#262626" stroke-width="1.25"/>
<line x1="446.5" y1="400.2" x2="503.4" y2="400.2" stroke="#262626" stroke-width="1.25" />
<line x1="475.8" y1="385.6" x2="475.8" y2="413.9" stroke="#262626" stroke-width="1.25" />
<text x="461.15" y="396.3" font-size="9" text-anchor="middle" font-weight="normal" fill="#1e1e1e" stroke="#1e1e1e" stroke-width="0.22" >2</text>
<rect x="460.45" y="406.45" width="1.9" height="1.3" fill="#3a3a3a"/>
<text x="489.6" y="396.3" font-size="9" text-anchor="middle" font-weight="normal" fill="#1e1e1e" stroke="#1e1e1e" stroke-width="0.22" >2</text>
<text x="489.6" y="410.9" font-size="9" text-anchor="middle" font-weight="normal" fill="#1e1e1e" stroke="#1e1e1e" stroke-width="0.22" >1</text>
<text x="483" y="423.2" font-size="8.5" text-anchor="start" font-weight="normal" fill="#222" stroke="#222" stroke-width="0.22" textLength="14.2" lengthAdjust="spacingAndGlyphs" >IV.3</text>
<line x1="481.5" y1="426.5" x2="498.5" y2="426.5" stroke="#333" stroke-width="1.15" />
<text x="96.8" y="452" font-size="13" text-anchor="start" font-weight="bold" fill="#000" stroke="#000" stroke-width="0.35" >E</text>
<line x1="135.5" y1="447.8" x2="135.5" y2="595.3" stroke="#1a1a1a" stroke-width="1.45" />
<line x1="131.9" y1="594.6" x2="135.5" y2="594.6" stroke="#1a1a1a" stroke-width="1.1" />
<text x="127.8" y="597.9" font-size="9.6" text-anchor="end" font-weight="normal" fill="#1a1a1a" stroke="#1a1a1a" stroke-width="0.22" textLength="5" lengthAdjust="spacingAndGlyphs" >0</text>
<line x1="131.9" y1="565.86" x2="135.5" y2="565.86" stroke="#1a1a1a" stroke-width="1.1" />
<text x="127.8" y="569.16" font-size="9.6" text-anchor="end" font-weight="normal" fill="#1a1a1a" stroke="#1a1a1a" stroke-width="0.22" textLength="10" lengthAdjust="spacingAndGlyphs" >20</text>
<line x1="131.9" y1="537.12" x2="135.5" y2="537.12" stroke="#1a1a1a" stroke-width="1.1" />
<text x="127.8" y="540.42" font-size="9.6" text-anchor="end" font-weight="normal" fill="#1a1a1a" stroke="#1a1a1a" stroke-width="0.22" textLength="10" lengthAdjust="spacingAndGlyphs" >40</text>
<line x1="131.9" y1="508.38" x2="135.5" y2="508.38" stroke="#1a1a1a" stroke-width="1.1" />
<text x="127.8" y="511.68" font-size="9.6" text-anchor="end" font-weight="normal" fill="#1a1a1a" stroke="#1a1a1a" stroke-width="0.22" textLength="10" lengthAdjust="spacingAndGlyphs" >60</text>
<line x1="131.9" y1="479.64" x2="135.5" y2="479.64" stroke="#1a1a1a" stroke-width="1.1" />
<text x="127.8" y="482.94" font-size="9.6" text-anchor="end" font-weight="normal" fill="#1a1a1a" stroke="#1a1a1a" stroke-width="0.22" textLength="10" lengthAdjust="spacingAndGlyphs" >80</text>
<line x1="131.9" y1="450.9" x2="135.5" y2="450.9" stroke="#1a1a1a" stroke-width="1.1" />
<text x="127.8" y="454.2" font-size="9.6" text-anchor="end" font-weight="normal" fill="#1a1a1a" stroke="#1a1a1a" stroke-width="0.22" textLength="15" lengthAdjust="spacingAndGlyphs" >100</text>
<text transform="translate(106.3,522.9) rotate(-90)" x="0" y="0" font-size="10.5" text-anchor="middle" fill="#1e1e1e" stroke="#1e1e1e" stroke-width="0.28" textLength="85.7" lengthAdjust="spacingAndGlyphs">PS-positive platelets [%]</text>
<rect x="145.6" y="495.8" width="17" height="98.8" fill="#e3e1e7"/>
<rect x="173.75" y="501.8" width="17" height="92.8" fill="#e3e1e7"/>
<rect x="201.7" y="587.3" width="17" height="7.3" fill="#e3e1e7"/>
<rect x="238.6" y="591" width="17" height="3.6" fill="#e3e1e7"/>
<rect x="266.5" y="590.2" width="17" height="4.4" fill="#e3e1e7"/>
<line x1="229" y1="451.3" x2="229" y2="593.5" stroke="#404040" stroke-width="1.6" stroke-dasharray="1.2 1.3"/>
<line x1="135.5" y1="594.6" x2="295.8" y2="594.6" stroke="#1a1a1a" stroke-width="1.45" />
<line x1="154.1" y1="594.6" x2="154.1" y2="598.2" stroke="#1a1a1a" stroke-width="1.1" />
<line x1="181.8" y1="594.6" x2="181.8" y2="598.2" stroke="#1a1a1a" stroke-width="1.1" />
<line x1="210.2" y1="594.6" x2="210.2" y2="598.2" stroke="#1a1a1a" stroke-width="1.1" />
<line x1="247.1" y1="594.6" x2="247.1" y2="598.2" stroke="#1a1a1a" stroke-width="1.1" />
<line x1="275" y1="594.6" x2="275" y2="598.2" stroke="#1a1a1a" stroke-width="1.1" />
<line x1="154.1" y1="473.2" x2="154.1" y2="518.5" stroke="#3a3b41" stroke-width="1.45" />
<line x1="149.8" y1="473.2" x2="158.4" y2="473.2" stroke="#3a3b41" stroke-width="1.45" />
<line x1="149.8" y1="518.5" x2="158.4" y2="518.5" stroke="#3a3b41" stroke-width="1.45" />
<circle cx="150.2" cy="473" r="1.95" fill="#3a3b41"/>
<circle cx="159" cy="473" r="1.95" fill="#3a3b41"/>
<circle cx="154.1" cy="496.6" r="1.95" fill="#3a3b41"/>
<circle cx="150.2" cy="518" r="1.95" fill="#3a3b41"/>
<circle cx="159" cy="518.8" r="1.95" fill="#3a3b41"/>
<line x1="181.8" y1="482.8" x2="181.8" y2="519" stroke="#3a3b41" stroke-width="1.45" />
<line x1="177.5" y1="482.8" x2="186.1" y2="482.8" stroke="#3a3b41" stroke-width="1.45" />
<line x1="177.5" y1="519" x2="186.1" y2="519" stroke="#3a3b41" stroke-width="1.45" />
<circle cx="177.5" cy="480.5" r="1.95" fill="#3a3b41"/>
<circle cx="186.5" cy="482.8" r="1.95" fill="#3a3b41"/>
<circle cx="181.8" cy="511" r="1.95" fill="#3a3b41"/>
<circle cx="177.5" cy="514.4" r="1.95" fill="#3a3b41"/>
<circle cx="186.5" cy="517" r="1.95" fill="#3a3b41"/>
<line x1="210.2" y1="586.3" x2="210.2" y2="592.3" stroke="#3a3b41" stroke-width="1.45" />
<line x1="205.9" y1="586.3" x2="214.5" y2="586.3" stroke="#3a3b41" stroke-width="1.45" />
<line x1="205.9" y1="592.3" x2="214.5" y2="592.3" stroke="#3a3b41" stroke-width="1.45" />
<circle cx="202.6" cy="587.9" r="1.95" fill="#3a3b41"/>
<circle cx="207.7" cy="587.5" r="1.95" fill="#3a3b41"/>
<circle cx="210.2" cy="585.6" r="1.95" fill="#3a3b41"/>
<circle cx="212.8" cy="590.2" r="1.95" fill="#3a3b41"/>
<circle cx="217.2" cy="591.8" r="1.95" fill="#3a3b41"/>
<line x1="247.1" y1="590" x2="247.1" y2="592.8" stroke="#3a3b41" stroke-width="1.45" />
<line x1="243.6" y1="590" x2="250.6" y2="590" stroke="#3a3b41" stroke-width="1.45" />
<line x1="243.6" y1="592.8" x2="250.6" y2="592.8" stroke="#3a3b41" stroke-width="1.45" />
<circle cx="240.7" cy="589.5" r="1.5" fill="#3a3b41"/>
<circle cx="244.5" cy="591.3" r="1.5" fill="#3a3b41"/>
<circle cx="248" cy="591.4" r="1.5" fill="#3a3b41"/>
<circle cx="251.5" cy="591.6" r="1.5" fill="#3a3b41"/>
<circle cx="255" cy="592.6" r="1.5" fill="#3a3b41"/>
<line x1="275.6" y1="587.8" x2="275.6" y2="592.8" stroke="#3a3b41" stroke-width="1.45" />
<line x1="271.85" y1="587.8" x2="279.35" y2="587.8" stroke="#3a3b41" stroke-width="1.45" />
<line x1="271.85" y1="592.8" x2="279.35" y2="592.8" stroke="#3a3b41" stroke-width="1.45" />
<circle cx="275.6" cy="586" r="1.55" fill="#3a3b41"/>
<circle cx="268.9" cy="591.6" r="1.55" fill="#3a3b41"/>
<circle cx="275.6" cy="592.2" r="1.55" fill="#3a3b41"/>
<circle cx="281.4" cy="592.4" r="1.55" fill="#3a3b41"/>
<line x1="154.7" y1="449.5" x2="275.4" y2="449.5" stroke="#2e2e30" stroke-width="1.3" />
<line x1="154.7" y1="445.6" x2="154.7" y2="453.4" stroke="#2e2e30" stroke-width="1.3" />
<line x1="275.4" y1="445.6" x2="275.4" y2="453.4" stroke="#2e2e30" stroke-width="1.3" />
<line x1="154.7" y1="462.8" x2="249.4" y2="462.8" stroke="#2e2e30" stroke-width="1.3" />
<line x1="154.7" y1="458.9" x2="154.7" y2="466.7" stroke="#2e2e30" stroke-width="1.3" />
<line x1="249.4" y1="458.9" x2="249.4" y2="466.7" stroke="#2e2e30" stroke-width="1.3" />
<circle cx="211.04" cy="444.6" r="1.2" fill="#2a2a2a"/>
<circle cx="214.31" cy="444.6" r="1.2" fill="#2a2a2a"/>
<circle cx="217.59" cy="444.6" r="1.2" fill="#2a2a2a"/>
<circle cx="220.86" cy="444.6" r="1.2" fill="#2a2a2a"/>
<circle cx="205.64" cy="458.5" r="1.2" fill="#2a2a2a"/>
<circle cx="208.91" cy="458.5" r="1.2" fill="#2a2a2a"/>
<circle cx="212.19" cy="458.5" r="1.2" fill="#2a2a2a"/>
<circle cx="215.46" cy="458.5" r="1.2" fill="#2a2a2a"/>
<rect x="11" y="602.7" width="126.8" height="27.4" fill="none" stroke="#262626" stroke-width="1.25"/>
<line x1="11" y1="616.6" x2="137.8" y2="616.6" stroke="#262626" stroke-width="1.25" />
<text x="21.6" y="614" font-size="9" text-anchor="start" font-weight="normal" fill="#1e1e1e" stroke="#1e1e1e" stroke-width="0.22" textLength="105.3" lengthAdjust="spacingAndGlyphs" >Histone H2A-H2B [µg/mL]</text>
<text x="19.6" y="628.6" font-size="9" text-anchor="start" font-weight="normal" fill="#1e1e1e" stroke="#1e1e1e" stroke-width="0.22" textLength="105.9" lengthAdjust="spacingAndGlyphs" >Anti-H2A-H2B-AB [µg/mL]</text>
<rect x="141.2" y="602.7" width="83.4" height="27.4" fill="none" stroke="#262626" stroke-width="1.25"/>
<line x1="141.2" y1="616.6" x2="224.6" y2="616.6" stroke="#262626" stroke-width="1.25" />
<line x1="169.6" y1="602.7" x2="169.6" y2="630.1" stroke="#262626" stroke-width="1.25" />
<line x1="196.8" y1="602.7" x2="196.8" y2="630.1" stroke="#262626" stroke-width="1.25" />
<text x="155.4" y="613.4" font-size="9" text-anchor="middle" font-weight="normal" fill="#1e1e1e" stroke="#1e1e1e" stroke-width="0.22" >10</text>
<text x="155.4" y="627.3" font-size="9" text-anchor="middle" font-weight="normal" fill="#1e1e1e" stroke="#1e1e1e" stroke-width="0.22" >1</text>
<text x="183.2" y="613.4" font-size="9" text-anchor="middle" font-weight="normal" fill="#1e1e1e" stroke="#1e1e1e" stroke-width="0.22" >10</text>
<text x="183.2" y="627.3" font-size="9" text-anchor="middle" font-weight="normal" fill="#1e1e1e" stroke="#1e1e1e" stroke-width="0.22" >0.1</text>
<text x="210.7" y="613.4" font-size="9" text-anchor="middle" font-weight="normal" fill="#1e1e1e" stroke="#1e1e1e" stroke-width="0.22" >10</text>
<text x="210.7" y="627.3" font-size="9" text-anchor="middle" font-weight="normal" fill="#1e1e1e" stroke="#1e1e1e" stroke-width="0.22" >0.01</text>
<rect x="232" y="602.7" width="56.7" height="27.5" fill="none" stroke="#262626" stroke-width="1.25"/>
<line x1="232" y1="616.6" x2="288.7" y2="616.6" stroke="#262626" stroke-width="1.25" />
<line x1="261.7" y1="602.7" x2="261.7" y2="630.2" stroke="#262626" stroke-width="1.25" />
<text x="246.85" y="613.4" font-size="9" text-anchor="middle" font-weight="normal" fill="#1e1e1e" stroke="#1e1e1e" stroke-width="0.22" >10</text>
<rect x="246.15" y="622.8" width="1.9" height="1.3" fill="#3a3a3a"/>
<text x="275.2" y="613.4" font-size="9" text-anchor="middle" font-weight="normal" fill="#1e1e1e" stroke="#1e1e1e" stroke-width="0.22" >10</text>
<text x="275.2" y="627.3" font-size="9" text-anchor="middle" font-weight="normal" fill="#1e1e1e" stroke="#1e1e1e" stroke-width="0.22" >1</text>
<text x="264.1" y="639.7" font-size="8.7" text-anchor="start" font-weight="normal" fill="#222" stroke="#222" stroke-width="0.22" textLength="20" lengthAdjust="spacingAndGlyphs" >+IV.3</text>
<line x1="265.4" y1="643.5" x2="282.7" y2="643.5" stroke="#333" stroke-width="1.15" />
<text x="317.6" y="451.9" font-size="13" text-anchor="start" font-weight="bold" fill="#000" stroke="#000" stroke-width="0.35" >F</text>
<line x1="350.6" y1="449" x2="350.6" y2="597.1" stroke="#1a1a1a" stroke-width="1.45" />
<line x1="347" y1="596.4" x2="350.6" y2="596.4" stroke="#1a1a1a" stroke-width="1.1" />
<text x="343.4" y="599.7" font-size="9.6" text-anchor="end" font-weight="normal" fill="#1a1a1a" stroke="#1a1a1a" stroke-width="0.22" textLength="5" lengthAdjust="spacingAndGlyphs" >0</text>
<line x1="347" y1="548.3" x2="350.6" y2="548.3" stroke="#1a1a1a" stroke-width="1.1" />
<text x="343.4" y="551.6" font-size="9.6" text-anchor="end" font-weight="normal" fill="#1a1a1a" stroke="#1a1a1a" stroke-width="0.22" textLength="5" lengthAdjust="spacingAndGlyphs" >5</text>
<line x1="347" y1="500.2" x2="350.6" y2="500.2" stroke="#1a1a1a" stroke-width="1.1" />
<text x="343.4" y="503.5" font-size="9.6" text-anchor="end" font-weight="normal" fill="#1a1a1a" stroke="#1a1a1a" stroke-width="0.22" textLength="10" lengthAdjust="spacingAndGlyphs" >10</text>
<line x1="347" y1="452.1" x2="350.6" y2="452.1" stroke="#1a1a1a" stroke-width="1.1" />
<text x="343.4" y="455.4" font-size="9.6" text-anchor="end" font-weight="normal" fill="#1a1a1a" stroke="#1a1a1a" stroke-width="0.22" textLength="10" lengthAdjust="spacingAndGlyphs" >15</text>
<line x1="348.8" y1="586.78" x2="350.6" y2="586.78" stroke="#1a1a1a" stroke-width="1.0" />
<line x1="348.8" y1="577.16" x2="350.6" y2="577.16" stroke="#1a1a1a" stroke-width="1.0" />
<line x1="348.8" y1="567.54" x2="350.6" y2="567.54" stroke="#1a1a1a" stroke-width="1.0" />
<line x1="348.8" y1="557.92" x2="350.6" y2="557.92" stroke="#1a1a1a" stroke-width="1.0" />
<line x1="348.8" y1="538.68" x2="350.6" y2="538.68" stroke="#1a1a1a" stroke-width="1.0" />
<line x1="348.8" y1="529.06" x2="350.6" y2="529.06" stroke="#1a1a1a" stroke-width="1.0" />
<line x1="348.8" y1="519.44" x2="350.6" y2="519.44" stroke="#1a1a1a" stroke-width="1.0" />
<line x1="348.8" y1="509.82" x2="350.6" y2="509.82" stroke="#1a1a1a" stroke-width="1.0" />
<line x1="348.8" y1="490.58" x2="350.6" y2="490.58" stroke="#1a1a1a" stroke-width="1.0" />
<line x1="348.8" y1="480.96" x2="350.6" y2="480.96" stroke="#1a1a1a" stroke-width="1.0" />
<line x1="348.8" y1="471.34" x2="350.6" y2="471.34" stroke="#1a1a1a" stroke-width="1.0" />
<line x1="348.8" y1="461.72" x2="350.6" y2="461.72" stroke="#1a1a1a" stroke-width="1.0" />
<text transform="translate(327,524.4) rotate(-90)" x="0" y="0" font-size="10.5" text-anchor="middle" fill="#1e1e1e" stroke="#1e1e1e" stroke-width="0.28" textLength="102.7" lengthAdjust="spacingAndGlyphs">MFI CD62P [PC5] fold change</text>
<rect x="361" y="522.3" width="17" height="73.2" fill="#e3e1e7"/>
<rect x="389" y="540.4" width="17" height="55.1" fill="#e3e1e7"/>
<rect x="416.8" y="530.2" width="17" height="65.3" fill="#e3e1e7"/>
<rect x="453.5" y="587.3" width="17" height="8.2" fill="#e3e1e7"/>
<rect x="481.2" y="578" width="17" height="17.5" fill="#e3e1e7"/>
<line x1="443.5" y1="451.4" x2="443.5" y2="594" stroke="#303030" stroke-width="1.25" stroke-dasharray="1.2 1.3"/>
<line x1="348.2" y1="595.5" x2="512" y2="595.5" stroke="#1a1a1a" stroke-width="1.45" />
<line x1="369.1" y1="595.5" x2="369.1" y2="599.1" stroke="#1a1a1a" stroke-width="1.1" />
<line x1="397.5" y1="595.5" x2="397.5" y2="599.1" stroke="#1a1a1a" stroke-width="1.1" />
<line x1="425.3" y1="595.5" x2="425.3" y2="599.1" stroke="#1a1a1a" stroke-width="1.1" />
<line x1="462" y1="595.5" x2="462" y2="599.1" stroke="#1a1a1a" stroke-width="1.1" />
<line x1="489.7" y1="595.5" x2="489.7" y2="599.1" stroke="#1a1a1a" stroke-width="1.1" />
<line x1="369.1" y1="487.4" x2="369.1" y2="555.3" stroke="#3a3b41" stroke-width="1.45" />
<line x1="364.8" y1="487.4" x2="373.4" y2="487.4" stroke="#3a3b41" stroke-width="1.45" />
<line x1="364.8" y1="555.3" x2="373.4" y2="555.3" stroke="#3a3b41" stroke-width="1.45" />
<circle cx="369" cy="465.4" r="1.95" fill="#3a3b41"/>
<circle cx="363.4" cy="526.4" r="1.95" fill="#3a3b41"/>
<circle cx="369.1" cy="529" r="1.95" fill="#3a3b41"/>
<circle cx="375.8" cy="529" r="1.95" fill="#3a3b41"/>
<circle cx="369.1" cy="558.2" r="1.95" fill="#3a3b41"/>
<line x1="397.5" y1="518.4" x2="397.5" y2="560.5" stroke="#3a3b41" stroke-width="1.45" />
<line x1="393.2" y1="518.4" x2="401.8" y2="518.4" stroke="#3a3b41" stroke-width="1.45" />
<line x1="393.2" y1="560.5" x2="401.8" y2="560.5" stroke="#3a3b41" stroke-width="1.45" />
<circle cx="397.5" cy="506.8" r="1.95" fill="#3a3b41"/>
<circle cx="397.5" cy="531.9" r="1.95" fill="#3a3b41"/>
<circle cx="397.5" cy="545.8" r="1.95" fill="#3a3b41"/>
<circle cx="397.5" cy="551.3" r="1.95" fill="#3a3b41"/>
<circle cx="397.5" cy="561.3" r="1.95" fill="#3a3b41"/>
<line x1="425.3" y1="488.7" x2="425.3" y2="570" stroke="#3a3b41" stroke-width="1.45" />
<line x1="421" y1="488.7" x2="429.6" y2="488.7" stroke="#3a3b41" stroke-width="1.45" />
<line x1="421" y1="570" x2="429.6" y2="570" stroke="#3a3b41" stroke-width="1.45" />
<circle cx="425.3" cy="481.7" r="1.95" fill="#3a3b41"/>
<circle cx="425.3" cy="499.9" r="1.95" fill="#3a3b41"/>
<circle cx="425.3" cy="529.7" r="1.95" fill="#3a3b41"/>
<circle cx="425.3" cy="553.4" r="1.95" fill="#3a3b41"/>
<circle cx="425.3" cy="583.2" r="1.95" fill="#3a3b41"/>
<line x1="462" y1="584" x2="462" y2="590.6" stroke="#3a3b41" stroke-width="1.45" />
<line x1="457.7" y1="584" x2="466.3" y2="584" stroke="#3a3b41" stroke-width="1.45" />
<line x1="457.7" y1="590.6" x2="466.3" y2="590.6" stroke="#3a3b41" stroke-width="1.45" />
<circle cx="457.2" cy="584" r="1.95" fill="#3a3b41"/>
<circle cx="467" cy="584" r="1.95" fill="#3a3b41"/>
<circle cx="461.9" cy="591.1" r="1.95" fill="#3a3b41"/>
<line x1="489.7" y1="569.3" x2="489.7" y2="585" stroke="#3a3b41" stroke-width="1.45" />
<line x1="485.4" y1="569.3" x2="494" y2="569.3" stroke="#3a3b41" stroke-width="1.45" />
<line x1="485.4" y1="585" x2="494" y2="585" stroke="#3a3b41" stroke-width="1.45" />
<circle cx="489.7" cy="569.3" r="1.95" fill="#3a3b41"/>
<circle cx="489.7" cy="578" r="1.95" fill="#3a3b41"/>
<circle cx="489.7" cy="585" r="1.95" fill="#3a3b41"/>
<line x1="370" y1="444.1" x2="494.1" y2="444.1" stroke="#2e2e30" stroke-width="1.3" />
<line x1="370" y1="440.2" x2="370" y2="448" stroke="#2e2e30" stroke-width="1.3" />
<line x1="494.1" y1="440.2" x2="494.1" y2="448" stroke="#2e2e30" stroke-width="1.3" />
<line x1="370" y1="456.8" x2="465.8" y2="456.8" stroke="#2e2e30" stroke-width="1.3" />
<line x1="370" y1="452.9" x2="370" y2="460.7" stroke="#2e2e30" stroke-width="1.3" />
<line x1="465.8" y1="452.9" x2="465.8" y2="460.7" stroke="#2e2e30" stroke-width="1.3" />
<circle cx="429.42" cy="439.5" r="1.2" fill="#2a2a2a"/>
<circle cx="432.48" cy="439.5" r="1.2" fill="#2a2a2a"/>
<circle cx="422.25" cy="451.7" r="1.2" fill="#2a2a2a"/>
<circle cx="425.55" cy="451.7" r="1.2" fill="#2a2a2a"/>
<circle cx="428.85" cy="451.7" r="1.2" fill="#2a2a2a"/>
<rect x="354.5" y="603.9" width="83.1" height="27.8" fill="none" stroke="#262626" stroke-width="1.25"/>
<line x1="354.5" y1="618.2" x2="437.6" y2="618.2" stroke="#262626" stroke-width="1.25" />
<line x1="383.3" y1="603.9" x2="383.3" y2="631.7" stroke="#262626" stroke-width="1.25" />
<line x1="411" y1="603.9" x2="411" y2="631.7" stroke="#262626" stroke-width="1.25" />
<text x="368.9" y="614.6" font-size="9" text-anchor="middle" font-weight="normal" fill="#1e1e1e" stroke="#1e1e1e" stroke-width="0.22" >10</text>
<text x="368.9" y="628.9" font-size="9" text-anchor="middle" font-weight="normal" fill="#1e1e1e" stroke="#1e1e1e" stroke-width="0.22" >1</text>
<text x="397.15" y="614.6" font-size="9" text-anchor="middle" font-weight="normal" fill="#1e1e1e" stroke="#1e1e1e" stroke-width="0.22" >10</text>
<text x="397.15" y="628.9" font-size="9" text-anchor="middle" font-weight="normal" fill="#1e1e1e" stroke="#1e1e1e" stroke-width="0.22" >0.1</text>
<text x="424.3" y="614.6" font-size="9" text-anchor="middle" font-weight="normal" fill="#1e1e1e" stroke="#1e1e1e" stroke-width="0.22" >10</text>
<text x="424.3" y="628.9" font-size="9" text-anchor="middle" font-weight="normal" fill="#1e1e1e" stroke="#1e1e1e" stroke-width="0.22" >0.01</text>
<rect x="446.5" y="603.9" width="57.3" height="27.8" fill="none" stroke="#262626" stroke-width="1.25"/>
<line x1="446.5" y1="618.2" x2="503.8" y2="618.2" stroke="#262626" stroke-width="1.25" />
<line x1="476.8" y1="603.9" x2="476.8" y2="631.7" stroke="#262626" stroke-width="1.25" />
<text x="461.65" y="614.6" font-size="9" text-anchor="middle" font-weight="normal" fill="#1e1e1e" stroke="#1e1e1e" stroke-width="0.22" >10</text>
<rect x="460.95" y="624.35" width="1.9" height="1.3" fill="#3a3a3a"/>
<text x="490.3" y="614.6" font-size="9" text-anchor="middle" font-weight="normal" fill="#1e1e1e" stroke="#1e1e1e" stroke-width="0.22" >10</text>
<text x="490.3" y="628.9" font-size="9" text-anchor="middle" font-weight="normal" fill="#1e1e1e" stroke="#1e1e1e" stroke-width="0.22" >1</text>
<text x="479.6" y="641.4" font-size="8.7" text-anchor="start" font-weight="normal" fill="#222" stroke="#222" stroke-width="0.22" textLength="19.6" lengthAdjust="spacingAndGlyphs" >+IV.3</text>
<line x1="480.8" y1="644.5" x2="497.7" y2="644.5" stroke="#333" stroke-width="1.15" />
<rect x="0.5" y="0.5" width="519" height="651" fill="none" stroke="#4e4e4e" stroke-width="1"/>
</svg>
</body></html>
